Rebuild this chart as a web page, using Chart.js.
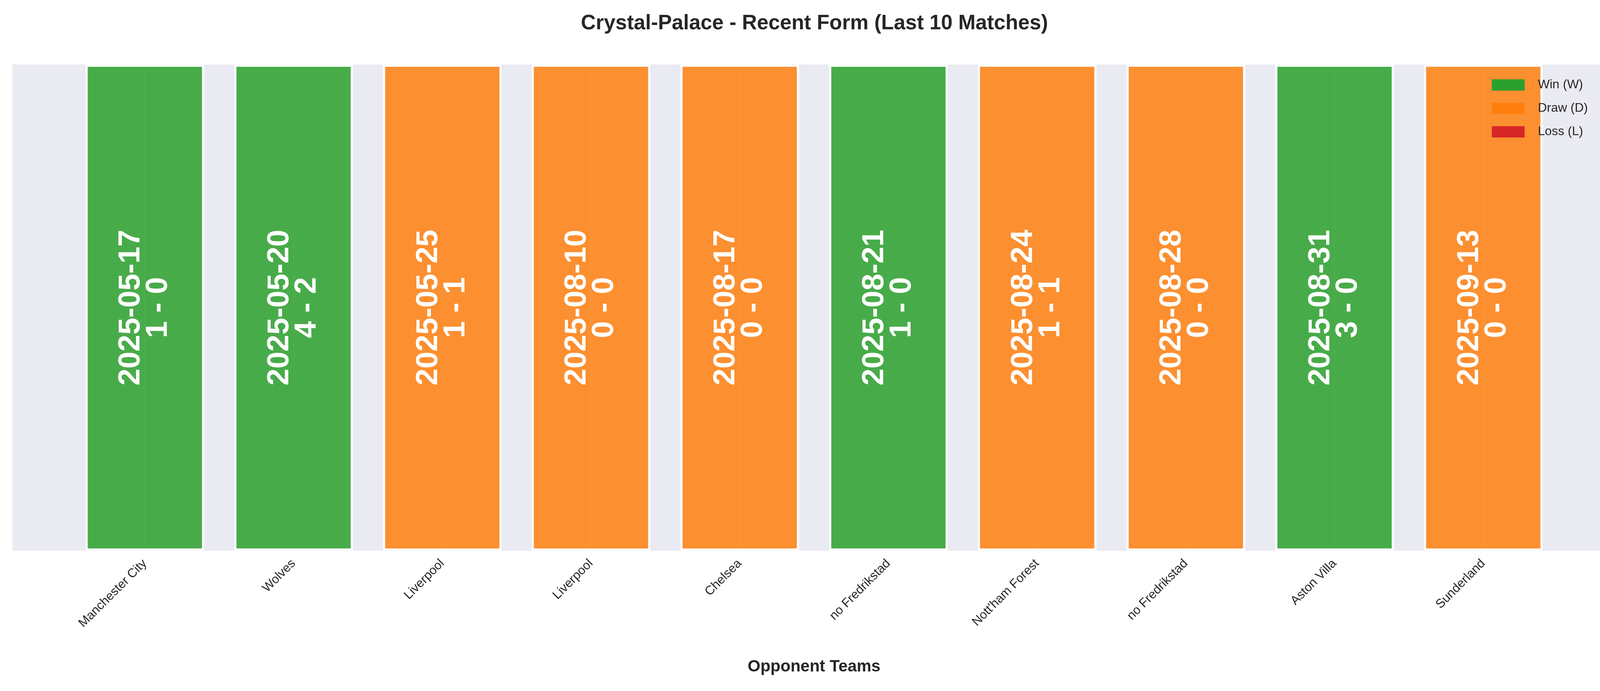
<!DOCTYPE html>
<html><head><meta charset="utf-8">
<script src="https://cdn.jsdelivr.net/npm/chart.js@4"></script>
<style>html,body{margin:0;padding:0;background:#fff}</style>
</head><body>
<canvas id="c" width="4170" height="1769"></canvas>
<script>
const opponents = ["Manchester City","Wolves","Liverpool","Liverpool","Chelsea","no Fredrikstad","Nott'ham Forest","no Fredrikstad","Aston Villa","Sunderland"];
const dates = ["2025-05-17","2025-05-20","2025-05-25","2025-08-10","2025-08-17","2025-08-21","2025-08-24","2025-08-28","2025-08-31","2025-09-13"];
const scores = ["1 - 0","4 - 2","1 - 1","0 - 0","0 - 0","1 - 0","1 - 1","0 - 0","3 - 0","0 - 0"];
const results = ["W","W","D","D","D","W","D","D","W","D"];
const barHeights = [1,1,1,1,1,1,1,1,1,1];

const colorMap = {W:"rgba(44,160,44,0.85)", D:"rgba(255,127,14,0.85)", L:"rgba(214,39,40,0.85)"};
const legendItems = [["Win (W)","#2ca02c"],["Draw (D)","#ff7f0e"],["Loss (L)","#d62728"]];

const deco = {
  id:"deco",
  beforeDraw(chart){
    const {ctx, chartArea:a} = chart;
    ctx.save();
    ctx.fillStyle="#fff"; ctx.fillRect(0,0,chart.width,chart.height);
    ctx.fillStyle="#eaeaf2"; ctx.fillRect(a.left,a.top,a.right-a.left,a.bottom-a.top);
    ctx.restore();
  },
  afterDraw(chart){
    const {ctx, chartArea:a} = chart;
    const xs = chart.scales.x, ys = chart.scales.y;
    ctx.save();
    ctx.fillStyle="#262626"; ctx.textAlign="center"; ctx.textBaseline="middle";
    ctx.font="bold 53px 'Liberation Sans', Arial, sans-serif";
    ctx.fillText("Crystal-Palace - Recent Form (Last 10 Matches)", chart.width/2, 60);
    ctx.fillStyle="#fff"; ctx.font="bold 78px 'Liberation Sans', Arial, sans-serif";
    dates.forEach((d,i)=>{
      const x = xs.getPixelForValue(i), y = ys.getPixelForValue(barHeights[i]/2);
      ctx.save(); ctx.translate(x,y); ctx.rotate(-Math.PI/2);
      ctx.fillText(d,0,-35); ctx.fillText(scores[i],0,35);
      ctx.restore();
    });
    ctx.font="32px 'Liberation Sans', Arial, sans-serif"; ctx.textAlign="left";
    legendItems.forEach(([t,c],k)=>{
      const y = a.top + 52 + k*60;
      ctx.fillStyle=c; ctx.fillRect(3819,y-14,84,29);
      ctx.fillStyle="#262626"; ctx.fillText(t,3937,y);
    });
    ctx.restore();
  }
};

new Chart(document.getElementById("c"),{
  type:"bar",
  data:{datasets:[{
    data: barHeights.map((v,i)=>({x:i,y:v})),
    backgroundColor: results.map(r=>colorMap[r]),
    borderColor:"rgba(255,255,255,0.85)", borderWidth:6, borderSkipped:false,
    barPercentage:0.8, categoryPercentage:1
  }]},
  options:{
    responsive:false, animation:false, devicePixelRatio:1,
    layout:{padding:{top:165,left:32,right:34,bottom:0}},
    plugins:{legend:{display:false},tooltip:{enabled:false}},
    scales:{
      x:{type:"linear",min:-0.89,max:9.89,offset:false,
        afterBuildTicks(s){ s.ticks = opponents.map((_,i)=>({value:i})); },
        afterFit(s){ s.height = 359; },
        grid:{color:"#fff",lineWidth:3,drawTicks:false,offset:false},
        border:{display:false},
        ticks:{autoSkip:false,minRotation:45,maxRotation:45,padding:14,color:"#262626",
          font:{size:32,family:"'Liberation Sans', Arial, sans-serif"},
          callback:(v)=>opponents[v]},
        title:{display:true,text:"Opponent Teams",color:"#262626",padding:{top:0,bottom:36},
          font:{size:42,weight:"bold",family:"'Liberation Sans', Arial, sans-serif"}}
      },
      y:{display:false,min:0,max:1}
    }
  },
  plugins:[deco]
});
</script>
</body></html>
